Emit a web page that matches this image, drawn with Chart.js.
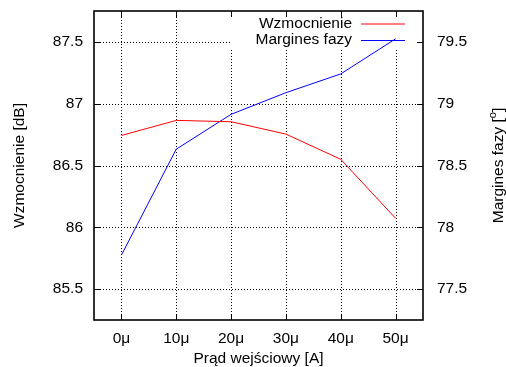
<!DOCTYPE html>
<html>
<head>
<meta charset="utf-8">
<script src="https://cdn.jsdelivr.net/npm/chart.js@4/dist/chart.umd.min.js"></script>
<style>
html,body{margin:0;padding:0;background:#fff;}
#wrap{width:506px;height:367px;position:relative;}
</style>
</head>
<body>
<div id="wrap"><canvas id="c" width="506" height="367"></canvas></div>
<script>
// ---- data ----
const currents = [0, 10, 20, 30, 40, 50];            // µA
const gain = [86.743, 86.865, 86.854, 86.754, 86.55, 86.073];   // dB
const phaseMargin = [77.775, 78.632, 78.914, 79.089, 79.241, 79.525]; // deg
const xTicks = [0, 10, 20, 30, 40, 50];
const yLeftTicks = [85.5, 86, 86.5, 87, 87.5];
const yRightTicks = [77.5, 78, 78.5, 79, 79.5];
const seriesNames = ['Wzmocnienie', 'Margines fazy'];
const xTitle = 'Prąd wejściowy [A]';
const yLeftTitle = 'Wzmocnienie [dB]';
const yRightTitle = 'Margines fazy [';

const FONT = '"Liberation Sans", Arial, Helvetica, sans-serif';
const FS = 15.5;

const gridAndKeyBg = {
  id: 'gridAndKeyBg',
  beforeDatasetsDraw(chart) {
    const ctx = chart.ctx, a = chart.chartArea;
    const sx = chart.scales.x, yl = chart.scales.y;
    ctx.save();
    ctx.strokeStyle = '#000';
    ctx.lineWidth = 1;
    ctx.setLineDash([1, 2]);
    ctx.beginPath();
    xTicks.forEach(v => {
      const px = Math.round(sx.getPixelForValue(v)) + 0.5;
      ctx.moveTo(px, a.top); ctx.lineTo(px, a.bottom);
    });
    yLeftTicks.forEach(v => {
      const py = Math.round(yl.getPixelForValue(v)) + 0.5;
      ctx.moveTo(a.left, py); ctx.lineTo(a.right, py);
    });
    ctx.stroke();
    ctx.setLineDash([]);
    ctx.fillStyle = '#fff';
    ctx.fillRect(231, a.top + 1, a.right - 231 - 1, 47 - a.top);
    ctx.restore();
  }
};

const extras = {
  id: 'extras',
  afterDraw(chart) {
    const ctx = chart.ctx, a = chart.chartArea;
    const sx = chart.scales.x, yl = chart.scales.y, yr = chart.scales.y1;
    ctx.save();
    ctx.strokeStyle = '#000';
    ctx.lineWidth = 1;
    const L = 6;
    ctx.beginPath();
    xTicks.forEach(v => {
      const px = Math.round(sx.getPixelForValue(v)) + 0.5;
      ctx.moveTo(px, a.bottom); ctx.lineTo(px, a.bottom - L);
      ctx.moveTo(px, a.top); ctx.lineTo(px, a.top + L);
    });
    yLeftTicks.forEach(v => {
      const py = Math.round(yl.getPixelForValue(v)) + 0.5;
      ctx.moveTo(a.left, py); ctx.lineTo(a.left + L, py);
    });
    yRightTicks.forEach(v => {
      const py = Math.round(yr.getPixelForValue(v)) + 0.5;
      ctx.moveTo(a.right, py); ctx.lineTo(a.right - L, py);
    });
    ctx.stroke();
    // border
    ctx.lineWidth = 1.6;
    ctx.strokeRect(a.left, a.top, a.right - a.left, a.bottom - a.top);

    // legend (key)
    ctx.font = FS + 'px ' + FONT;
    ctx.textAlign = 'right';
    ctx.textBaseline = 'middle';
    const colors = ['#ff0000', '#0000ff'];
    const rows = [23.5, 40];
    seriesNames.forEach((n, i) => {
      ctx.fillStyle = '#000';
      ctx.fillText(n, 352, rows[i]);
      ctx.strokeStyle = colors[i];
      ctx.lineWidth = 1;
      ctx.beginPath();
      ctx.moveTo(361, rows[i] + 0.5); ctx.lineTo(405, rows[i] + 0.5);
      ctx.stroke();
    });

    // axis titles
    ctx.fillStyle = '#000';
    ctx.font = FS + 'px ' + FONT;
    ctx.textAlign = 'center';
    ctx.textBaseline = 'middle';
    ctx.fillText(xTitle, (a.left + a.right) / 2, 359);
    ctx.save();
    ctx.translate(20, (a.top + a.bottom) / 2);
    ctx.rotate(-Math.PI / 2);
    ctx.fillText(yLeftTitle, 0, 0);
    ctx.restore();
    ctx.save();
    ctx.translate(499, (a.top + a.bottom) / 2);
    ctx.rotate(-Math.PI / 2);
    const w1 = ctx.measureText(yRightTitle).width;
    ctx.font = '11px ' + FONT;
    const w2 = ctx.measureText('o').width;
    ctx.font = FS + 'px ' + FONT;
    const w3 = ctx.measureText(']').width;
    const tot = w1 + w2 + w3;
    ctx.textAlign = 'left';
    let x0 = -tot / 2;
    ctx.fillText(yRightTitle, x0, 0);
    ctx.font = '11px ' + FONT;
    ctx.fillText('o', x0 + w1, -6);
    ctx.font = FS + 'px ' + FONT;
    ctx.fillText(']', x0 + w1 + w2, 0);
    ctx.restore();
    ctx.restore();
  }
};

function fitV(w) {
  return s => { s.width = w; s.paddingTop = 0; s.paddingBottom = 0; };
}

new Chart(document.getElementById('c'), {
  type: 'line',
  data: {
    datasets: [
      { label: seriesNames[0], data: currents.map((x, i) => ({x, y: gain[i]})), yAxisID: 'y',
        borderColor: '#ff0000', borderWidth: 1, pointRadius: 0, fill: false, tension: 0 },
      { label: seriesNames[1], data: currents.map((x, i) => ({x, y: phaseMargin[i]})), yAxisID: 'y1',
        borderColor: '#0000ff', borderWidth: 1, pointRadius: 0, fill: false, tension: 0 }
    ]
  },
  options: {
    responsive: false,
    animation: false,
    devicePixelRatio: 1,
    layout: { padding: { top: 11, left: 0, right: 0, bottom: 0 } },
    plugins: { legend: { display: false }, tooltip: { enabled: false } },
    scales: {
      x: {
        type: 'linear', min: -5, max: 55,
        afterBuildTicks: s => { s.ticks = xTicks.map(v => ({value: v})); },
        afterFit: s => { s.height = 47; s.paddingLeft = 0; s.paddingRight = 0; },
        ticks: { callback: v => v + 'μ', color: '#000', font: { family: FONT, size: FS }, padding: 9, maxRotation: 0 },
        grid: { display: false, drawTicks: false },
        border: { display: false }
      },
      y: {
        position: 'left', min: 85.25, max: 87.75,
        afterBuildTicks: s => { s.ticks = yLeftTicks.map(v => ({value: v})); },
        afterFit: fitV(94),
        ticks: { callback: v => String(v), color: '#000', font: { family: FONT, size: FS }, padding: 11 },
        grid: { display: false, drawTicks: false },
        border: { display: false }
      },
      y1: {
        position: 'right', min: 77.25, max: 79.75,
        afterBuildTicks: s => { s.ticks = yRightTicks.map(v => ({value: v})); },
        afterFit: fitV(83),
        ticks: { callback: v => String(v), color: '#000', font: { family: FONT, size: FS }, padding: 14 },
        grid: { display: false, drawTicks: false },
        border: { display: false }
      }
    }
  },
  plugins: [gridAndKeyBg, extras]
});
</script>
</body>
</html>
